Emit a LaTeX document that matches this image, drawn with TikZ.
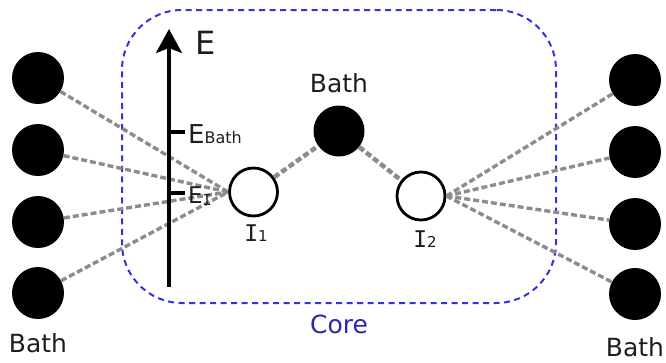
\documentclass[tikz,border=0pt]{standalone}
\usepackage{fontspec}
\setmainfont{DejaVu Sans}
\newfontfamily\serifI{DejaVu Sans Mono}
\usetikzlibrary{arrows.meta, positioning}
\definecolor{LinkGray}{RGB}{140,140,140}
\definecolor{CoreBlue}{RGB}{50,50,225}
\definecolor{CoreText}{RGB}{40,40,170}
\definecolor{InkDark}{RGB}{30,30,30}

\begin{document}
\begin{tikzpicture}[
    x=1pt, y=-1pt,
    bath/.style={circle, fill=black, minimum size=52pt, inner sep=0pt},
    imp/.style={circle, draw=black, line width=2.8pt, fill=white, minimum size=48pt, inner sep=0pt},
    hop/.style={LinkGray, line width=3.4pt, dash pattern=on 6pt off 3pt},
    lbl/.style={font=\fontsize{25}{27}\selectfont, text=InkDark},
]
\useasboundingbox (0,0) rectangle (666,362);

% ---- Core ----
\node[draw=CoreBlue, line width=2pt, dash pattern=on 6pt off 4.5pt, rounded corners=60pt,
    minimum width=434pt, minimum height=293pt, inner sep=0pt] (core) at (339,156.5) {};
\node[lbl, text=CoreText, below=7pt of core] (corelab) {Core};

% ---- baths left / right ----
\foreach \k/\y in {1/78,2/150,3/222,4/293} \node[bath] (lb\k) at (38,\y) {};
\foreach \k/\y in {1/80,2/152,3/224,4/294} \node[bath] (rb\k) at (635,\y) {};
\node[lbl, below=11pt of lb4] (lblab) {Bath};
\node[lbl, below=14pt of rb4] (rblab) {Bath};

% ---- impurities + middle bath ----
\node[imp] (i1) at (253.5,192) {};
\node[imp] (i2) at (421,196) {};
\node[bath, minimum size=51pt] (bm) at (339,131) {};
\node[lbl, above=9pt of bm] (bmlab) {Bath};
\node[text=InkDark] (i1lab) at (256,233) {{\fontsize{23}{23}\selectfont\serifI I}{\fontsize{15}{15}\selectfont 1}};
\node[text=InkDark] (i2lab) at (425,239) {{\fontsize{23}{23}\selectfont\serifI I}{\fontsize{15}{15}\selectfont 2}};

% couplings
\foreach \k in {1,...,4} \draw[hop] (lb\k) -- (i1.west);
\foreach \k in {1,...,4} \draw[hop] (i2.east) -- (rb\k);
\draw[hop, line width=4.5pt] (i1) -- (bm) -- (i2);

% ---- energy axis ----
\coordinate (axlo) at (169,287);
\coordinate (axhi) at (169,29);
\coordinate (tkB) at (169,132);
\coordinate (tkI) at (169,193);
\draw[line width=3.6pt, -{Stealth[length=24pt, width=26pt, inset=5pt]}] (axlo) -- (axhi);
\draw[line width=3.6pt] (tkB) -- ++(16,0);
\draw[line width=3.6pt] (tkI) -- ++(16,0);
\node[font=\fontsize{32}{32}\selectfont, text=InkDark] (elab) at (206,43) {E};
\node[anchor=base west, inner sep=0pt, text=InkDark] (eblab) at (188,143)
    {{\fontsize{26}{26}\selectfont E}{\fontsize{16}{16}\selectfont Bath}};
\node[anchor=base west, inner sep=0pt, text=InkDark] (eilab) at (188,203)
    {{\fontsize{23}{23}\selectfont E}\raisebox{-2pt}{\fontsize{15}{15}\selectfont\serifI I}};

\end{tikzpicture}
\end{document}
